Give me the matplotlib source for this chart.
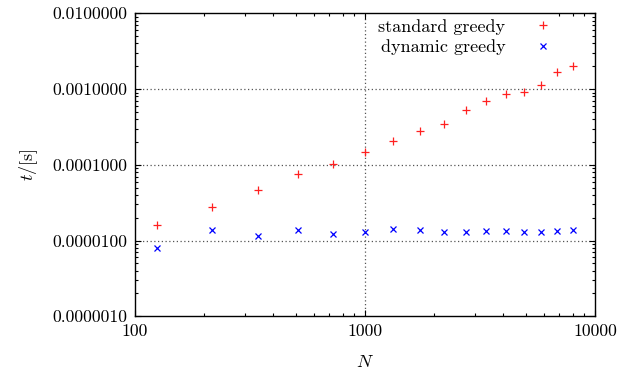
import matplotlib
matplotlib.use("Agg")
import matplotlib.pyplot as plt
from matplotlib.ticker import FixedLocator, LogLocator, NullFormatter

plt.rcParams['font.family'] = ['cmr10', 'DejaVu Serif']
plt.rcParams['mathtext.fontset'] = 'cm'
plt.rcParams['axes.formatter.use_mathtext'] = True

# problem size N = n^3
N = [125, 216, 343, 512, 729, 1000, 1331, 1728, 2197, 2744,
     3375, 4096, 4913, 5832, 6859, 8000]
t_standard = [1.60e-5, 2.77e-5, 4.69e-5, 7.48e-5, 1.03e-4, 1.46e-4, 2.04e-4, 2.77e-4,
              3.49e-4, 5.34e-4, 6.95e-4, 8.69e-4, 9.14e-4, 1.13e-3, 1.68e-3, 2.01e-3]
t_dynamic = [7.97e-6, 1.38e-5, 1.16e-5, 1.36e-5, 1.23e-5, 1.30e-5, 1.42e-5, 1.39e-5,
             1.31e-5, 1.31e-5, 1.34e-5, 1.34e-5, 1.30e-5, 1.31e-5, 1.35e-5, 1.39e-5]

xticks = [100, 1000, 10000]
xticklabels = ['100', '1000', '10000']
yticks = [1e-6, 1e-5, 1e-4, 1e-3, 1e-2]
yticklabels = ['0.0000010', '0.0000100', '0.0001000', '0.0010000', '0.0100000']

fig = plt.figure(figsize=(6.4, 3.76), dpi=100)
ax = fig.add_axes([0.2105, 0.1588, 0.7192, 0.8058])
ax.set_xscale('log')
ax.set_yscale('log')
ax.set_xlim(100, 10000)
ax.set_ylim(1e-6, 1e-2)

# grid lines (only inside, like gnuplot)
for y in yticks[1:-1]:
    ax.axhline(y, color='#555555', ls=(0, (1, 2)), lw=0.9, zorder=1)
ax.axvline(1000, color='#555555', ls=(0, (1, 2)), lw=0.9, zorder=1)

ax.plot(N, t_standard, ls='none', marker='+', color='#ff2020', ms=5.5, mew=0.9,
        label='standard greedy', zorder=3)
ax.plot(N, t_dynamic, ls='none', marker='x', color='#0000ff', ms=4.5, mew=0.9,
        label='dynamic greedy', zorder=3)

ax.xaxis.set_major_locator(FixedLocator(xticks))
ax.set_xticklabels(xticklabels)
ax.yaxis.set_major_locator(FixedLocator(yticks))
ax.set_yticklabels(yticklabels)
ax.xaxis.set_minor_locator(LogLocator(base=10, subs=range(2, 10)))
ax.yaxis.set_minor_locator(LogLocator(base=10, subs=range(2, 10)))
ax.xaxis.set_minor_formatter(NullFormatter())
ax.yaxis.set_minor_formatter(NullFormatter())
ax.tick_params(which='both', direction='in', top=True, right=True, labelsize=12.7)
ax.tick_params(which='major', length=4.5, width=0.8, pad=5)
ax.tick_params(which='minor', length=2.5, width=0.8)
for s in ax.spines.values():
    s.set_linewidth(1.0)

ax.set_xlabel('$N$', fontsize=13, labelpad=11)
ax.set_ylabel('$t$/[s]', fontsize=13, labelpad=9)

leg = ax.legend(loc='upper right', markerfirst=False, frameon=True, fontsize=13,
                handlelength=0.8, handletextpad=1.7, borderaxespad=0.0,
                labelspacing=0.25, borderpad=0.3, bbox_to_anchor=(0.915, 1.0))
leg.get_frame().set_edgecolor('none')
leg.get_frame().set_facecolor('white')
leg.get_frame().set_alpha(1.0)
leg.set_zorder(2)

fig.savefig('out.png', dpi=100)
